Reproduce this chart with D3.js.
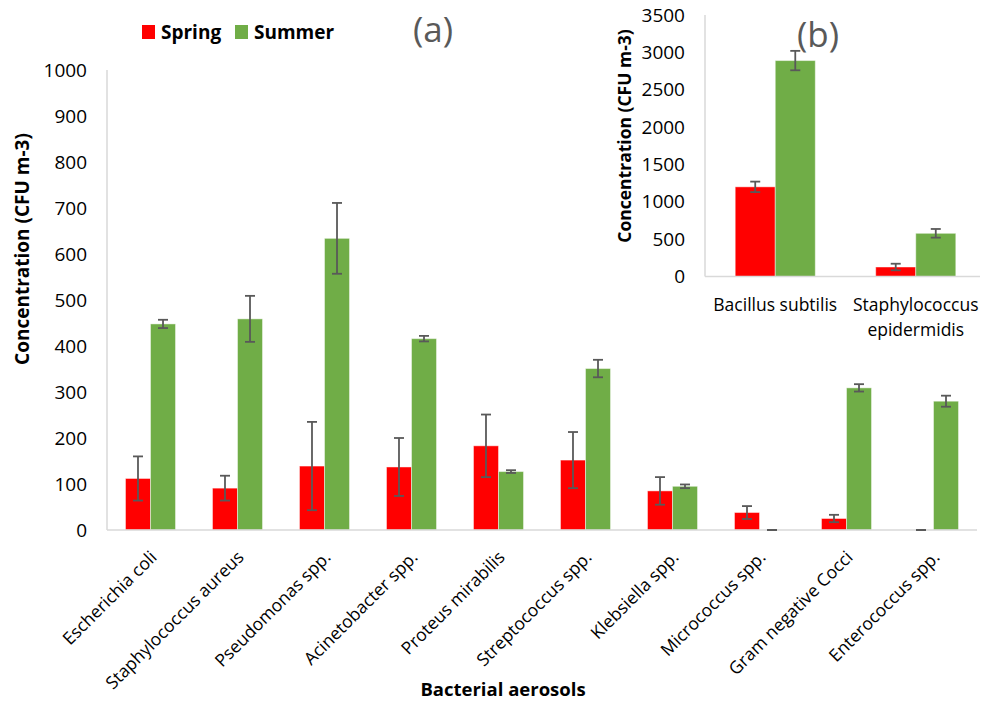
<!DOCTYPE html>
<html>
<head>
<meta charset="utf-8">
<title>Bacterial aerosols</title>
<style>
  body { margin: 0; background: #fff; }
  svg { font-family: "Open Sans", sans-serif; }
  .axis-line { stroke: #d9d9d9; stroke-width: 1.5; }
  .tick-label { font-size: 19px; fill: #000; }
  .err { stroke: #595959; stroke-width: 1.8; fill: none; }
</style>
</head>
<body>
<script src="https://d3js.org/d3.v7.min.js"></script>
<script>

// main chart (a)
var categories = ["Escherichia coli", "Staphylococcus aureus", "Pseudomonas spp.",
  "Acinetobacter spp.", "Proteus mirabilis", "Streptococcus spp.", "Klebsiella spp.",
  "Micrococcus spp.", "Gram negative Cocci", "Enterococcus spp."];
var spring    = [112, 91, 139, 137, 183, 152, 85, 38, 25, 0];
var springErr = [48, 27, 96, 63, 68, 61, 30, 14, 8, 0];
var summer    = [448, 459, 634, 416, 127, 351, 95, 0, 309, 280];
var summerErr = [9, 50, 77, 6, 3, 19, 4, 0, 8, 12];
var yTicks = [0, 100, 200, 300, 400, 500, 600, 700, 800, 900, 1000];

// inset chart (b)
var insetCategories = [["Bacillus subtilis"], ["Staphylococcus", "epidermidis"]];
var insetSpring    = [1200, 127];
var insetSpringErr = [70, 44];
var insetSummer    = [2890, 578];
var insetSummerErr = [130, 58];
var insetTicks = [0, 500, 1000, 1500, 2000, 2500, 3000, 3500];

var seasons = ["Spring", "Summer"];
var colors = {Spring: "#ff0000", Summer: "#70ad47"};

var svg = d3.select("body").append("svg")
    .attr("width", 990)
    .attr("height", 702);

// draws one grouped bar chart with error bars
function drawChart(cfg) {
  var g = svg.append("g");
  var x = d3.scaleBand()
      .domain(d3.range(cfg.n))
      .range([cfg.left, cfg.right])
      .paddingInner(cfg.pad)
      .paddingOuter(cfg.pad / 2);
  var sub = d3.scaleBand().domain(seasons).range([0, x.bandwidth()]);
  var y = d3.scaleLinear().domain(cfg.domain).range([cfg.bottom, cfg.top]);

  var rows = [];
  for (var i = 0; i < cfg.n; i++) {
    rows.push({i: i, s: "Spring", v: cfg.spring[i], e: cfg.springErr[i]});
    rows.push({i: i, s: "Summer", v: cfg.summer[i], e: cfg.summerErr[i]});
  }

  g.selectAll("rect.bar")
    .data(rows.filter(function(d) { return d.v > 0; }))
    .enter().append("rect")
      .attr("class", "bar")
      .attr("x", function(d) { return x(d.i) + sub(d.s); })
      .attr("width", sub.bandwidth())
      .attr("y", function(d) { return y(d.v); })
      .attr("height", function(d) { return y(0) - y(d.v); })
      .attr("fill", function(d) { return colors[d.s]; })
      .attr("stroke", "#ffffff")
      .attr("stroke-opacity", 0.45)
      .attr("stroke-width", 1);

  // axis lines
  g.append("line").attr("class", "axis-line")
    .attr("x1", cfg.left).attr("x2", cfg.left)
    .attr("y1", y(cfg.domain[1])).attr("y2", y(0));
  g.append("line").attr("class", "axis-line")
    .attr("x1", cfg.left).attr("x2", cfg.axisEnd)
    .attr("y1", y(0)).attr("y2", y(0));

  // error bars
  var eb = g.selectAll("g.err")
    .data(rows)
    .enter().append("g")
      .attr("class", "err")
      .attr("stroke", function(d) { return d.v === 0 ? "#bfbfbf" : "#595959"; })
      .attr("transform", function(d) {
        return "translate(" + (x(d.i) + sub(d.s) + sub.bandwidth() / 2) + ",0)";
      });
  eb.append("line")
    .attr("y1", function(d) { return y(d.v + d.e); })
    .attr("y2", function(d) { return y(d.v - d.e); });
  eb.append("line").attr("x1", -5).attr("x2", 5)
    .attr("y1", function(d) { return y(d.v + d.e); })
    .attr("y2", function(d) { return y(d.v + d.e); });
  eb.append("line").attr("x1", -5).attr("x2", 5)
    .attr("y1", function(d) { return y(d.v - d.e); })
    .attr("y2", function(d) { return y(d.v - d.e); });

  // y tick labels
  g.selectAll("text.ytick")
    .data(cfg.ticks)
    .enter().append("text")
      .attr("class", "tick-label")
      .attr("x", cfg.left - 20)
      .attr("y", function(d) { return y(d); })
      .attr("dy", "0.35em")
      .attr("text-anchor", "end")
      .text(function(d) { return d; });

  return {x: x, y: y, g: g};
}

var main = drawChart({
  n: categories.length, left: 107, right: 977, axisEnd: 977, top: 70, bottom: 530,
  pad: 0.425, domain: [0, 1000], ticks: yTicks,
  spring: spring, springErr: springErr, summer: summer, summerErr: summerErr
});

// rotated category labels
main.g.selectAll("text.xlab")
  .data(categories)
  .enter().append("text")
    .attr("transform", function(d, i) {
      return "translate(" + (main.x(i) + main.x.bandwidth() / 2 + 3) + ",554)rotate(-45)";
    })
    .attr("dy", "0.35em")
    .attr("text-anchor", "end")
    .style("font-size", "17.5px")
    .text(function(d) { return d; });

svg.append("text")
  .attr("transform", "translate(29,249)rotate(-90)")
  .attr("text-anchor", "middle")
  .style("font-size", "19px")
  .style("font-weight", "bold")
  .text("Concentration (CFU m-3)");

svg.append("text")
  .attr("x", 503).attr("y", 696)
  .attr("text-anchor", "middle")
  .style("font-size", "18.5px")
  .style("font-weight", "bold")
  .text("Bacterial aerosols");

svg.append("text")
  .attr("x", 433).attr("y", 42)
  .attr("text-anchor", "middle")
  .style("font-size", "35px")
  .attr("fill", "#595959")
  .text("(a)");

// legend
var legend = svg.append("g");
var legendX = [142, 235];
seasons.forEach(function(s, i) {
  legend.append("rect")
    .attr("x", legendX[i]).attr("y", 25)
    .attr("width", 13).attr("height", 14)
    .attr("fill", colors[s]);
  legend.append("text")
    .attr("x", legendX[i] + 19).attr("y", 39)
    .style("font-size", "19px")
    .style("font-weight", "bold")
    .text(s);
});

// inset
var inset = drawChart({
  n: insetCategories.length, left: 705, right: 986, axisEnd: 980, top: 15, bottom: 276.5,
  pad: 0.43, domain: [0, 3500], ticks: insetTicks,
  spring: insetSpring, springErr: insetSpringErr, summer: insetSummer, summerErr: insetSummerErr
});

inset.g.selectAll("text.xlab")
  .data(insetCategories)
  .enter().append("text")
    .attr("x", function(d, i) { return inset.x(i) + inset.x.bandwidth() / 2; })
    .attr("y", 311)
    .attr("text-anchor", "middle")
    .style("font-size", "17.5px")
    .each(function(d) {
      var t = d3.select(this);
      d.forEach(function(line, k) {
        t.append("tspan")
          .attr("x", t.attr("x"))
          .attr("dy", k === 0 ? 0 : 25)
          .text(line);
      });
    });

svg.append("text")
  .attr("transform", "translate(631,136)rotate(-90)")
  .attr("text-anchor", "middle")
  .style("font-size", "17.5px")
  .style("font-weight", "bold")
  .text("Concentration (CFU m-3)");

svg.append("text")
  .attr("x", 818).attr("y", 47)
  .attr("text-anchor", "middle")
  .style("font-size", "35px")
  .attr("fill", "#595959")
  .text("(b)");

</script>
</body>
</html>
